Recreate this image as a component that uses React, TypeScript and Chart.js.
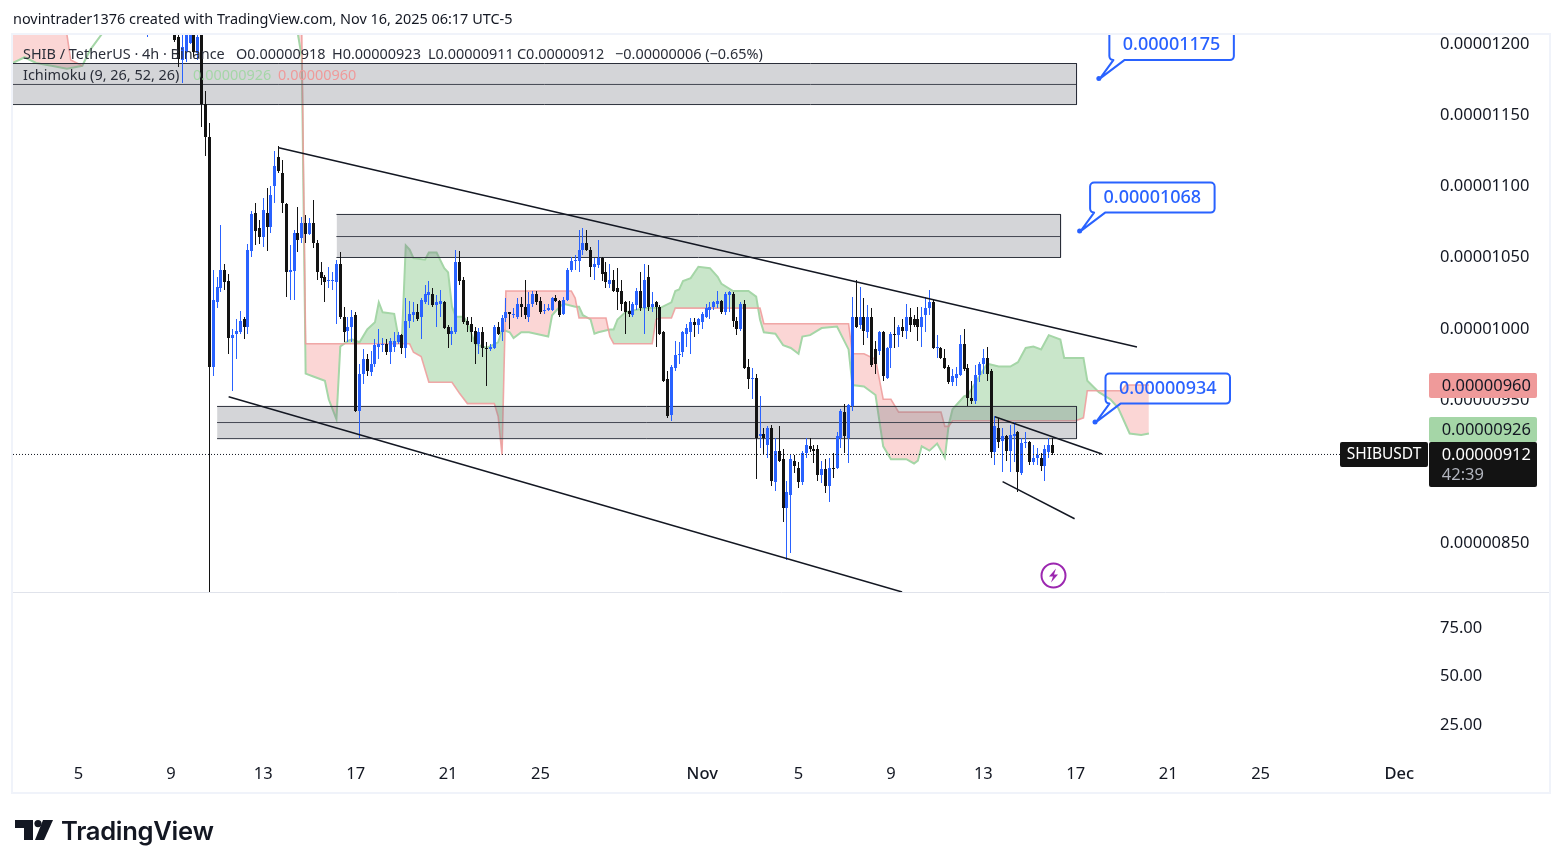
import React, { useEffect, useRef } from "react";
import { Chart, registerables } from "chart.js";

Chart.register(...registerables);

// all prices are in 1e-8 USDT, so 912 reads 0.00000912. x is a 4h bar number
const firstBar = 34;
const opens = [1216, 1210, 1214, 1216, 1218, 1214, 1216, 1212,
  1207, 1204, 1188, 1194, 1200, 1208, 1193, 1212, 1157, 1134, 973, 1018, 1028, 1041, 1033, 993, 996, 997, 1006, 1001,
  1054, 1081, 1070, 1064, 1081, 1071, 1100, 1120, 1109, 1087, 1039, 1040, 1067, 1063, 1074, 1066, 1074, 1060, 1039,
  1036, 1033, 1033, 1032, 1045, 1008, 998, 1001, 1009, 942, 968, 978, 969, 975, 987, 988, 989, 983, 987, 990, 995, 986,
  1005, 1009, 1011, 1008, 1018, 1023, 1024, 1016, 1017, 1018, 1001, 996, 997, 1046, 1034, 1005, 1003, 998, 989, 997,
  986, 985, 986, 1001, 997, 1007, 1011, 1009, 1008, 1017, 1015, 1008, 1017, 1024, 1019, 1012, 1013, 1013, 1021, 1019,
  1010, 1020, 1041, 1047, 1047, 1055, 1060, 1055, 1043, 1044, 1049, 1039, 1031, 1034, 1028, 1026, 1018, 1012, 1009,
  1016, 1026, 1014, 1036, 1015, 1018, 1015, 997, 964, 939, 972, 981, 983, 996, 997, 1004, 1002, 1004, 1008, 1013, 1015,
  1017, 1019, 1011, 1023, 1024, 1005, 999, 1017, 973, 964, 965, 924, 926, 918, 930, 892, 914, 908, 874, 883, 907, 902,
  892, 912, 917, 915, 915, 897, 901, 889, 902, 902, 923, 941, 923, 945, 1008, 1002, 1008, 997, 1008, 985, 984, 997,
  965, 986, 996, 995, 1001, 998, 1008, 1006, 1006, 1001, 1009, 1014, 1018, 986, 986, 979, 973, 962, 965, 967, 989, 972,
  951, 949, 967, 975, 979, 970, 913, 930, 921, 924, 914, 924, 927, 898, 919, 920, 906, 909, 909, 903, 913, 918];
const highs = [1218, 1220, 1222, 1224, 1226, 1226, 1222, 1218,
  1209, 1207, 1207, 1210, 1212, 1212, 1209, 1214, 1166, 1144, 1041, 1036, 1072, 1045, 1038, 999, 1006, 1012, 1008, 1059,
  1082, 1088, 1076, 1091, 1098, 1100, 1124, 1128, 1118, 1088, 1058, 1069, 1085, 1078, 1079, 1077, 1090, 1062, 1046,
  1037, 1043, 1039, 1048, 1053, 1015, 1008, 1013, 1011, 975, 985, 982, 984, 992, 999, 993, 992, 993, 997, 997, 996, 1021,
  1019, 1018, 1017, 1021, 1030, 1033, 1028, 1023, 1027, 1019, 1002, 1001, 1055, 1054, 1036, 1008, 1008, 1001, 1000, 1001,
  990, 989, 1002, 1004, 1009, 1021, 1011, 1014, 1021, 1022, 1034, 1025, 1026, 1026, 1022, 1017, 1017, 1022, 1023, 1020,
  1022, 1042, 1050, 1051, 1069, 1070, 1069, 1057, 1049, 1062, 1050, 1046, 1045, 1041, 1042, 1034, 1019, 1019, 1018,
  1028, 1039, 1045, 1044, 1025, 1019, 1016, 998, 970, 974, 991, 990, 998, 1003, 1007, 1007, 1007, 1011, 1017, 1018, 1019,
  1026, 1020, 1025, 1026, 1025, 1008, 1018, 1020, 978, 972, 968, 952, 930, 931, 932, 923, 931, 915, 893, 911, 911, 906,
  914, 923, 923, 918, 918, 907, 908, 909, 912, 927, 943, 947, 947, 1022, 1034, 1029, 1021, 1016, 1014, 991, 998, 998,
  987, 997, 1008, 1002, 1006, 1017, 1014, 1009, 1015, 1015, 1022, 1027, 1020, 995, 987, 985, 974, 971, 973, 995, 999, 975,
  963, 974, 976, 985, 987, 971, 938, 937, 930, 925, 932, 934, 928, 923, 927, 921, 918, 916, 912, 918, 923, 923];
const lows = [1206, 1204, 1212, 1212, 1214, 1210, 1212, 1208,
  1201, 1183, 1172, 1187, 1199, 1190, 1188, 1141, 1121, 815, 966, 1014, 1025, 1027, 982, 956, 978, 996, 992, 996,
  1050, 1058, 1059, 1057, 1054, 1067, 1088, 1109, 1081, 1022, 1020, 1020, 1053, 1060, 1060, 1065, 1056, 1034, 1030,
  1018, 1028, 1027, 1003, 1006, 990, 990, 990, 941, 923, 961, 966, 966, 973, 978, 983, 981, 975, 983, 989, 982, 979,
  1000, 1004, 1005, 992, 1017, 1016, 1015, 1001, 1008, 999, 986, 988, 996, 1030, 1003, 997, 990, 975, 982, 980,
  959, 984, 985, 995, 991, 1004, 999, 1007, 1006, 1008, 1006, 1004, 1015, 1016, 1010, 1010, 1012, 1012, 1018, 1008,
  1009, 1019, 1039, 1041, 1039, 1051, 1054, 1036, 1034, 1042, 1033, 1028, 1028, 1025, 1013, 1012, 996, 1008, 1008,
  1013, 1012, 996, 1012, 1011, 987, 995, 962, 937, 935, 970, 975, 980, 987, 982, 994, 996, 999, 1007, 1006, 1013, 1014,
  1010, 1009, 1011, 1001, 995, 998, 971, 957, 950, 894, 916, 911, 909, 889, 886, 906, 864, 837, 842, 898, 888,
  890, 909, 913, 905, 893, 891, 884, 878, 895, 901, 916, 912, 905, 942, 1000, 999, 988, 993, 973, 968, 981, 963,
  964, 972, 986, 987, 994, 992, 997, 1001, 991, 987, 997, 1009, 985, 979, 978, 971, 961, 959, 959, 966, 970, 945,
  947, 947, 962, 968, 963, 909, 904, 916, 899, 907, 899, 906, 885, 897, 916, 904, 904, 904, 900, 893, 909, 911];
const closes = [1212, 1216, 1218, 1220, 1222, 1216, 1220, 1214,
  1202, 1189, 1197, 1207, 1210, 1194, 1204, 1157, 1134, 973, 1020, 1029, 1041, 1032, 993, 995, 998, 1005, 1001, 1055,
  1080, 1068, 1064, 1083, 1071, 1093, 1114, 1110, 1088, 1039, 1041, 1067, 1062, 1074, 1066, 1074, 1060, 1039, 1035,
  1032, 1034, 1034, 1045, 1008, 997, 1001, 1008, 942, 968, 978, 970, 975, 988, 989, 989, 983, 991, 991, 995, 986, 1005,
  1010, 1011, 1006, 1020, 1024, 1025, 1016, 1018, 1019, 1000, 996, 998, 1046, 1033, 1004, 1002, 997, 989, 997, 986,
  985, 987, 1001, 996, 1007, 1011, 1010, 1010, 1017, 1015, 1009, 1017, 1024, 1018, 1011, 1013, 1014, 1021, 1019, 1009,
  1020, 1041, 1047, 1048, 1055, 1060, 1055, 1043, 1045, 1049, 1038, 1032, 1034, 1026, 1025, 1017, 1011, 1010, 1017,
  1026, 1014, 1034, 1015, 1017, 1015, 996, 963, 938, 973, 981, 982, 997, 1000, 1004, 1002, 1006, 1010, 1014, 1015, 1018,
  1019, 1011, 1024, 1025, 1005, 999, 1017, 972, 964, 965, 923, 926, 923, 930, 893, 914, 907, 874, 885, 908, 903, 892,
  912, 918, 915, 914, 897, 901, 889, 902, 901, 924, 942, 924, 946, 1008, 1001, 1008, 998, 1008, 974, 975, 997, 966,
  986, 996, 995, 1001, 998, 1008, 1002, 1002, 1001, 1008, 1014, 1018, 986, 987, 979, 972, 962, 966, 968, 989, 971, 951,
  949, 967, 975, 979, 968, 913, 931, 920, 924, 914, 925, 926, 899, 919, 920, 906, 909, 911, 903, 915, 918, 912];

// ichimoku leading spans at the bars where they bend
const spanABars = [0, 3, 6, 10, 14, 18, 20, 23, 25, 73, 74, 75, 76, 78, 81, 82, 84, 85, 87, 88, 90, 92, 94, 95, 96, 99, 100, 101, 102, 103, 104, 107, 108, 110, 112, 113, 114, 115, 117, 118, 120, 123, 126, 127, 129, 130, 132, 134, 139, 140, 142, 143, 146, 147, 148, 150, 151, 152, 155, 156, 157, 159, 164, 168, 171, 172, 173, 174, 176, 178, 181, 183, 184, 187, 191, 193, 194, 195, 198, 200, 202, 204, 205, 207, 210, 214, 217, 218, 221, 224, 226, 228, 232, 234, 235, 236, 238, 240, 242, 243, 244, 245, 247, 248, 253, 256, 259, 261, 263, 265, 267, 269, 272, 273, 278, 279, 282, 285, 287, 290, 293, 295];
const spanAValues = [1186, 1190, 1186, 1184, 1182, 1184, 1195, 1206, 1240, 1240, 1206, 1190, 968, 966, 963, 950, 936, 987, 991, 992, 990, 999, 1004, 1018, 1011, 1010, 995, 992, 1058, 1055, 1049, 1048, 1053, 1053, 1042, 1039, 1015, 1008, 1008, 1004, 989, 986, 990, 999, 997, 993, 997, 997, 994, 1009, 1015, 1017, 1015, 1015, 1009, 1006, 996, 997, 999, 999, 1006, 1011, 1014, 1014, 1018, 1026, 1027, 1033, 1035, 1043, 1042, 1036, 1031, 1026, 1026, 1022, 1006, 997, 996, 988, 986, 982, 994, 995, 1000, 1001, 985, 960, 959, 953, 917, 908, 908, 905, 907, 917, 914, 919, 909, 932, 943, 946, 952, 953, 975, 973, 973, 976, 986, 987, 985, 995, 992, 979, 979, 963, 955, 950, 944, 926, 925, 926];
// span B has no value between the two stretches where it shows
const spanBBars = [0, 13, 14, 15, 18, 40, 74, 75, 76, 103, 104, 106, 108, 114, 116, 118, 125, 126, 127, 128, 145, 146, 147, 154, 155, 156, 166, 167, 168, 171, 172, 194, 195, 217, 218, 221, 224, 226, 228, 230, 241, 242, 243, 244, 276, 278, 279, 288, 289, 295];
const spanBValues = [1240, 1240, 1206, 1188, 1184, null, 1240, 1206, 989, 989, 983, 980, 962, 962, 954, 947, 947, 938, 911, 1026, 1026, 1021, 1007, 1007, 994, 989, 989, 1006, 1007, 1007, 1014, 1014, 1003, 1003, 982, 982, 978, 950, 950, 941, 941, 931, 931, 935, 935, 937, 956, 956, 960, 960];

// grey zones drawn on the chart
const bandStart = [0, 84, 53];
const bandEnd = [276.2, 272.05, 276.2];
const bandTop = [1185.6, 1079.7, 945];
const bandMid = [1170.9, 1064.2, 933.7];
const bandBottom = [1156.8, 1049.5, 922.4];

// trend lines as [bar, price, bar, price]
const trendLines = [
  [69, 1126.5, 291.9, 986.7],
  [56, 951.8, 230.9, 814.8],
  [255, 937.8, 282.8, 911.6],
  [257, 892.2, 275.7, 866.2],
];

const calloutBars = [282, 277, 281];
const calloutPrices = [1175, 1068, 934];

const priceTicks = [1200, 1150, 1100, 1050, 1000, 950, 850];
const rsiTicks = [75, 50, 25];
const xTickBars = [17, 41, 65, 89, 113, 137, 179, 204, 228, 252, 276, 300, 324, 360];
const xTickLabels = ["5", "9", "13", "17", "21", "25", "Nov", "5", "9", "13", "17", "21", "25", "Dec"];

const lastPriceLine = 911.3;
const legendValues = ["O0.00000918", "H0.00000923", "L0.00000911", "C0.00000912", "−0.00000006 (−0.65%)"];
const legendLefts = [236, 332, 428, 517, 615];

const FONT = '"Noto Sans", sans-serif';
const BLUE = "#2962ff";
const DARK = "#131722";

const fmt = (v: number) => (v / 1e8).toFixed(8);

const toPoints = (bars: number[], values: (number | null)[]) => bars.map((b, i) => ({ x: b, y: values[i] }));

const buildDatasets = () => {
  const sets: any[] = [];
  const line = (data: any[], color: string, width: number, order: number, extra: any = {}) => {
    sets.push({ type: "line", data, borderColor: color, borderWidth: width, pointRadius: 0, tension: 0, order, ...extra });
    return sets.length - 1;
  };

  // cloud, span B on top of span A
  const spanB = line(toPoints(spanBBars, spanBValues), "rgba(239,154,154,0.85)", 1.6, 59);
  line(toPoints(spanABars, spanAValues), "#a5d6a7", 2, 60, {
    fill: { target: spanB, above: "rgba(165,214,167,0.6)", below: "rgba(239,83,80,0.24)" },
  });

  // zones
  bandStart.forEach((start, i) => {
    const end = bandEnd[i];
    const bottom = line([{ x: start, y: bandBottom[i] }, { x: end, y: bandBottom[i] }], "#2a2e39", 1, 50);
    line([{ x: start, y: bandMid[i] }, { x: end, y: bandMid[i] }], "#2a2e39", 1, 49);
    line([{ x: start, y: bandTop[i] }, { x: end, y: bandTop[i] }], "#2a2e39", 1, 48, {
      fill: { target: bottom, above: "rgba(120,123,134,0.32)" },
    });
    line([{ x: end, y: bandTop[i] }, { x: end, y: bandBottom[i] }], "#2a2e39", 1, 47);
  });

  // candles
  const barIds = opens.map((_, i) => firstBar + i);
  const colors = opens.map((o, i) => (closes[i] >= o ? BLUE : "#131313"));
  sets.push({
    type: "bar",
    data: barIds.map((x, i) => ({ x, y: [lows[i], highs[i]] })),
    backgroundColor: colors,
    barThickness: 1,
    grouped: false,
    inflateAmount: 0,
    order: 31,
  });
  sets.push({
    type: "bar",
    data: barIds.map((x, i) => ({ x, y: [opens[i], closes[i]] })),
    backgroundColor: colors,
    barThickness: 3,
    grouped: false,
    inflateAmount: 0,
    minBarLength: 1,
    order: 30,
  });

  line([{ x: 0, y: lastPriceLine }, { x: 368, y: lastPriceLine }], "#131722", 1, 25, { borderDash: [1, 2] });

  trendLines.forEach((t) => {
    line([{ x: t[0], y: t[1] }, { x: t[2], y: t[3] }], "#131722", 1.5, 20);
  });

  line(toPoints(calloutBars, calloutPrices), BLUE, 0, 10, {
    showLine: false,
    pointRadius: 2.5,
    pointBackgroundColor: BLUE,
    pointBorderWidth: 0,
  });
  return sets;
};

// keep wicks and bodies on whole pixels, like the real chart does
const snapPlugin = {
  id: "snap",
  beforeDatasetsDraw(chart: any) {
    chart.getSortedVisibleDatasetMetas().forEach((meta: any) => {
      if (meta.type !== "bar") return;
      meta.data.forEach((el: any) => {
        el.x = Math.floor(el.x) + 0.5;
        el.y = Math.round(el.y);
        el.base = Math.round(el.base);
        if (el.y === el.base) el.base = el.y + 1;
      });
    });
  },
};

const overlayPlugin = {
  id: "overlay",
  afterDraw(chart: any) {
    const { ctx, chartArea, scales } = chart;
    ctx.save();

    // pane divider
    ctx.strokeStyle = "#e0e3eb";
    ctx.lineWidth = 1;
    ctx.beginPath();
    ctx.moveTo(chartArea.left, Math.round(scales.y.bottom) + 0.5);
    ctx.lineTo(1550, Math.round(scales.y.bottom) + 0.5);
    ctx.stroke();

    // callouts, the top one runs out of the pane
    ctx.save();
    ctx.beginPath();
    ctx.rect(chartArea.left, chartArea.top, chartArea.width, chartArea.height);
    ctx.clip();
    calloutBars.forEach((bar, i) => {
      const ax = scales.x.getPixelForValue(bar);
      const ay = scales.y.getPixelForValue(calloutPrices[i]);
      const l = ax + 10.5;
      const b = ay - 18.5;
      const w = 124.5;
      const h = 30;
      const t = b - h;
      const r = 4;
      ctx.strokeStyle = BLUE;
      ctx.lineWidth = 2;
      ctx.lineJoin = "round";
      ctx.beginPath();
      ctx.moveTo(l + r, t);
      ctx.lineTo(l + w - r, t);
      ctx.arcTo(l + w, t, l + w, t + r, r);
      ctx.lineTo(l + w, b - r);
      ctx.arcTo(l + w, b, l + w - r, b, r);
      ctx.lineTo(l + 15, b);
      ctx.lineTo(ax + 1, ay);
      ctx.lineTo(l + 4, b);
      ctx.lineTo(l + r, b);
      ctx.arcTo(l, b, l, b - r, r);
      ctx.lineTo(l, t + r);
      ctx.arcTo(l, t, l + r, t, r);
      ctx.closePath();
      ctx.stroke();
      ctx.fillStyle = BLUE;
      ctx.font = `500 18px ${FONT}`;
      ctx.textAlign = "center";
      ctx.textBaseline = "middle";
      ctx.fillText(fmt(calloutPrices[i]), l + w / 2, t + h / 2);
    });
    ctx.restore();

    // labels on the price axis
    const tag = (x: number, y: number, w: number, h: number, bg: string) => {
      ctx.fillStyle = bg;
      ctx.beginPath();
      ctx.roundRect(x, y, w, h, 2);
      ctx.fill();
    };
    const text = (s: string, x: number, y: number, color: string) => {
      ctx.fillStyle = color;
      ctx.fillText(s, x, y);
    };
    ctx.font = `16.5px ${FONT}`;
    ctx.textAlign = "right";
    ctx.textBaseline = "middle";
    tag(1429, 373, 108, 25, "#ef9a9a");
    text("0.00000960", 1531, 386, DARK);
    tag(1429, 417, 108, 25, "#a5d6a7");
    text("0.00000926", 1531, 430, DARK);
    tag(1429, 442, 108, 45, "#131313");
    text("0.00000912", 1531, 455, "#ffffff");
    text("42:39", 1484, 475, "#b2b5be");
    tag(1340, 442, 88, 25, "#131313");
    ctx.font = `15.5px ${FONT}`;
    ctx.textAlign = "center";
    text("SHIBUSDT", 1384, 455, "#ffffff");
    ctx.restore();
  },
};

const App = () => {
  const canvasRef = useRef<HTMLCanvasElement>(null);

  useEffect(() => {
    if (!canvasRef.current) return;
    const tickFont = { family: FONT, size: 16.5 };
    const chart = new Chart(canvasRef.current, {
      type: "bar",
      data: { datasets: buildDatasets() },
      options: {
        responsive: false,
        animation: false,
        events: [],
        layout: { padding: { left: 13, top: 35, right: 13, bottom: 75 } },
        plugins: { legend: { display: false }, tooltip: { enabled: false } },
        scales: {
          x: {
            type: "linear",
            min: 0,
            max: 368,
            offset: false,
            grid: { display: false },
            border: { display: false },
            afterBuildTicks: (scale: any) => {
              scale.ticks = xTickBars.map((value) => ({ value }));
            },
            afterFit: (scale: any) => {
              scale.height = 40;
            },
            ticks: {
              autoSkip: false,
              maxRotation: 0,
              padding: 3,
              color: DARK,
              font: (ctx: any) => ({ ...tickFont, weight: ctx.index === 6 || ctx.index === 13 ? "500" : "400" }),
              callback: (_v: any, i: number) => xTickLabels[i],
            },
          },
          y: {
            type: "linear",
            position: "right",
            stack: "panes",
            stackWeight: 557,
            min: 814.8,
            max: 1205.6,
            grid: { display: false },
            border: { display: false },
            afterBuildTicks: (scale: any) => {
              scale.ticks = priceTicks.map((value) => ({ value }));
            },
            afterFit: (scale: any) => {
              scale.width = 120;
            },
            ticks: { padding: 2, labelOffset: 1, color: DARK, font: tickFont, callback: (v: any) => fmt(v) },
          },
          rsi: {
            type: "linear",
            position: "right",
            stack: "panes",
            stackWeight: 161,
            min: 9.9,
            max: 93.2,
            grid: { display: false },
            border: { display: false },
            afterBuildTicks: (scale: any) => {
              scale.ticks = rsiTicks.map((value) => ({ value }));
            },
            afterFit: (scale: any) => {
              scale.width = 120;
            },
            ticks: { padding: 2, labelOffset: 1, color: DARK, font: tickFont, callback: (v: any) => Number(v).toFixed(2) },
          },
        },
      } as any,
      plugins: [snapPlugin, overlayPlugin],
    });
    return () => chart.destroy();
  }, []);

  const textStyle: React.CSSProperties = {
    position: "absolute",
    fontFamily: FONT,
    fontSize: 14.45,
    lineHeight: "20px",
    color: "#2a2e39",
    whiteSpace: "nowrap",
  };

  return (
    <div style={{ position: "absolute", left: 0, top: 0, width: 1563, height: 868, background: "#fff", overflow: "hidden" }}>
      <canvas ref={canvasRef} width={1563} height={868} style={{ display: "block", position: "absolute", left: 0, top: 0 }} />
      {/* frame of the chart */}
      <div style={{ position: "absolute", left: 11, top: 33, width: 1536, height: 757, border: "2px solid #f0f3fa", pointerEvents: "none" }} />
      <div style={{ ...textStyle, left: 13, top: 9, color: "#131722" }}>
        novintrader1376 created with TradingView.com, Nov 16, 2025 06:17 UTC-5
      </div>
      <div style={{ ...textStyle, left: 23, top: 44 }}>SHIB / TetherUS · 4h · Binance</div>
      {legendValues.map((v, i) => (
        <div key={v} style={{ ...textStyle, left: legendLefts[i], top: 44 }}>
          {v}
        </div>
      ))}
      <div style={{ ...textStyle, left: 23, top: 65 }}>Ichimoku (9, 26, 52, 26)</div>
      <div style={{ ...textStyle, left: 193, top: 65, color: "#a5d6a7" }}>0.00000926</div>
      <div style={{ ...textStyle, left: 278, top: 65, color: "#ef9a9a" }}>0.00000960</div>
      {/* flash icon */}
      <svg style={{ position: "absolute", left: 1040, top: 562 }} width="27" height="27" viewBox="0 0 27 27">
        <circle cx="13.5" cy="13.5" r="12" fill="#fff" stroke="#9c27b0" strokeWidth="2" />
        <path d="M16 6.5 L9 14.5 H13 L11 20.5 L18 12.5 H14 Z" fill="#9c27b0" />
      </svg>
      {/* logo */}
      <svg style={{ position: "absolute", left: 15, top: 820 }} width="39" height="21" viewBox="0 0 39 21">
        <path d="M0 0 H18 V20 H9 V8 H0 Z" fill="#131722" />
        <circle cx="23" cy="3.6" r="3.6" fill="#131722" />
        <path d="M28 0 H38 L29 20 H20 Z" fill="#131722" />
      </svg>
      <div style={{ position: "absolute", left: 61, top: 814, fontFamily: "Inter, sans-serif", fontWeight: 600, fontSize: 25.6, lineHeight: "34px", letterSpacing: "-0.3px", color: "#131722" }}>
        TradingView
      </div>
    </div>
  );
};

export default App;
